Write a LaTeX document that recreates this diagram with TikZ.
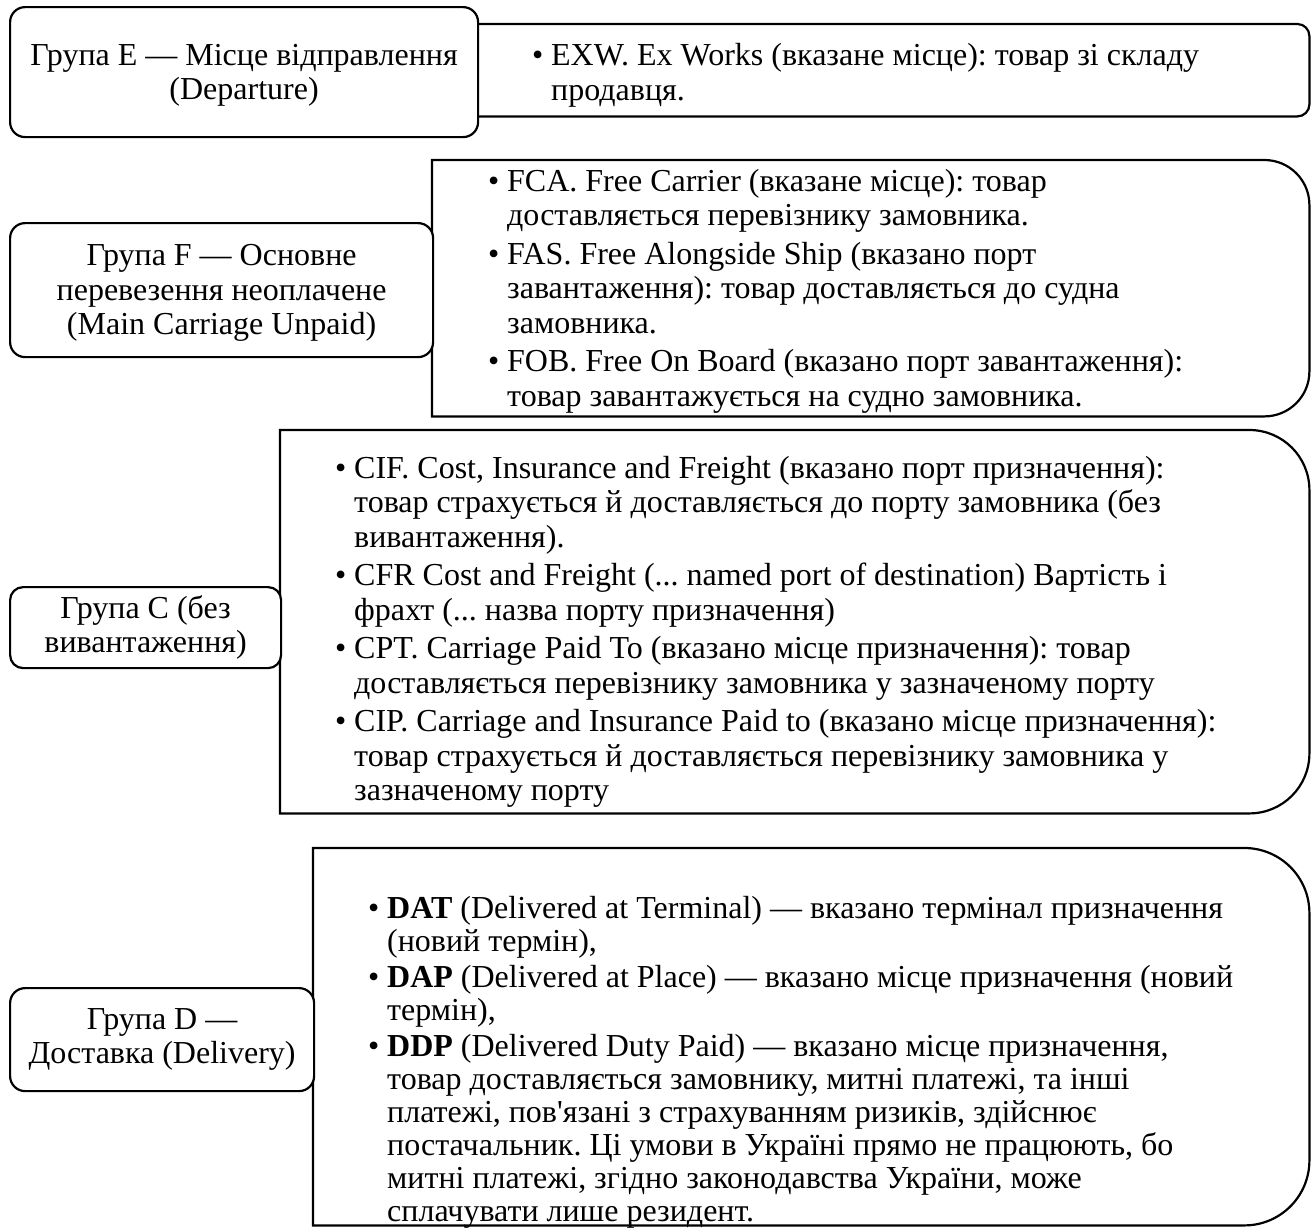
\documentclass[tikz,border=0pt]{standalone}
\usepackage{fontspec}
\setmainfont{Liberation Serif}
\usetikzlibrary{calc}
\newcommand\bul{\makebox[19pt][l]{•}}
\newcommand\ind{\hspace*{19pt}}
\begin{document}
\begin{tikzpicture}[x=1pt,y=-1pt,
  every node/.style={font=\fontsize{32}{34.5}\selectfont\frenchspacing},
  lbox/.style={draw=black, line width=2.2pt, rounded corners=15pt, align=center, inner sep=0pt},
  rframe/.style={draw=none, inner sep=0pt, anchor=north west},
  rline/.style={draw=black, line width=2.2pt},
  rtext/.style={align=left, inner sep=0pt, anchor=west}]
\useasboundingbox (0,0) rectangle (1314,1227);

% ---------- Group E ----------
\node[rframe, minimum width=832pt, minimum height=92pt] (er) at (477,24) {};
\draw[rline] (er.north west) -- ([xshift=-12pt]er.north east) arc[start angle=90,end angle=0,radius=12pt]
  -- ([yshift=12pt]er.south east) arc[start angle=0,end angle=-90,radius=12pt] -- (er.south west) -- cycle;
\node[lbox, fill=white, minimum width=468pt, minimum height=130pt, anchor=north west] (el) at (9,6) {};
\node[align=center, inner sep=0pt] (elt) at ([yshift=-3pt]el.center) {Група E — Місце відправлення\\(Departure)};
\node[rtext] (ert) at (532,75.5)
  {\bul EXW. Ex Works (вказане місце): товар зі складу\\
   \ind продавця.};

% ---------- Group F ----------
\node[rframe, minimum width=877pt, minimum height=256pt] (fr) at (432,160) {};
\draw[rline] (fr.north west) -- ([xshift=-45pt]fr.north east) arc[start angle=90,end angle=0,radius=45pt]
  -- ([yshift=45pt]fr.south east) arc[start angle=0,end angle=-90,radius=45pt] -- (fr.south west) -- cycle;
\node[lbox, fill=white, minimum width=423pt, minimum height=134pt, anchor=north west] (fl) at (9,222) {};
\node[align=center, inner sep=0pt] (flt) at ([yshift=-3pt]fl.center) {Група F — Основне\\перевезення неоплачене\\(Main Carriage Unpaid)};
\node[rtext] (frt) at (488,291)
  {\bul FCA. Free Carrier (вказане місце): товар\\
   \ind доставляється перевізнику замовника.\\[4pt]
   \bul FAS. Free Alongside Ship (вказано порт\\
   \ind завантаження): товар доставляється до судна\\
   \ind замовника.\\[4pt]
   \bul FOB. Free On Board (вказано порт завантаження):\\
   \ind товар завантажується на судно замовника.};

% ---------- Group C ----------
\node[rframe, minimum width=1029pt, minimum height=383pt] (cr) at (280,430) {};
\draw[rline] (cr.north west) -- ([xshift=-60pt]cr.north east) arc[start angle=90,end angle=0,radius=60pt]
  -- ([yshift=60pt]cr.south east) arc[start angle=0,end angle=-90,radius=60pt] -- (cr.south west) -- cycle;
\node[lbox, fill=white, rounded corners=13pt, minimum width=271pt, minimum height=81pt, anchor=north west] (cl) at (9,586) {};
\node[align=center, inner sep=0pt] (clt) at (cl.center) {Група С (без\\вивантаження)};
\node[rtext] (crt) at (335,632)
  {\bul CIF. Cost, Insurance and Freight (вказано порт призначення):\\
   \ind товар страхується й доставляється до порту замовника (без\\
   \ind вивантаження).\\[4pt]
   \bul CFR Cost and Freight (... named port of destination) Вартість і\\
   \ind фрахт (... назва порту призначення)\\[4pt]
   \bul CPT. Carriage Paid To (вказано місце призначення): товар\\
   \ind доставляється перевізнику замовника у зазначеному порту\\[4pt]
   \bul CIP. Carriage and Insurance Paid to (вказано місце призначення):\\
   \ind товар страхується й доставляється перевізнику замовника у\\
   \ind зазначеному порту};

% ---------- Group D ----------
\node[rframe, minimum width=996pt, minimum height=377pt] (dr) at (313,848) {};
\draw[rline] (dr.north west) -- ([xshift=-65pt]dr.north east) arc[start angle=90,end angle=0,radius=65pt]
  -- ([yshift=65pt]dr.south east) arc[start angle=0,end angle=-90,radius=65pt] -- (dr.south west) -- cycle;
\node[lbox, fill=white, minimum width=304pt, minimum height=103pt, anchor=north west] (dl) at (9,987) {};
\node[align=center, inner sep=0pt] (dlt) at (dl.center) {Група D —\\Доставка (Delivery)};
\node[rtext, font=\fontsize{32}{33}\selectfont\frenchspacing] (drt) at (368,1062)
  {\bul \textbf{DAT} (Delivered at Terminal) — вказано термінал призначення\\
   \ind (новий термін),\\[3pt]
   \bul \textbf{DAP} (Delivered at Place) — вказано місце призначення (новий\\
   \ind термін),\\[3pt]
   \bul \textbf{DDP} (Delivered Duty Paid) — вказано місце призначення,\\
   \ind товар доставляється замовнику, митні платежі, та інші\\
   \ind платежі, пов\textquotesingle язані з страхуванням ризиків, здійснює\\
   \ind постачальник. Ці умови в Україні прямо не працюють, бо\\
   \ind митні платежі, згідно законодавства України, може\\
   \ind сплачувати лише резидент.};
\end{tikzpicture}
\end{document}
